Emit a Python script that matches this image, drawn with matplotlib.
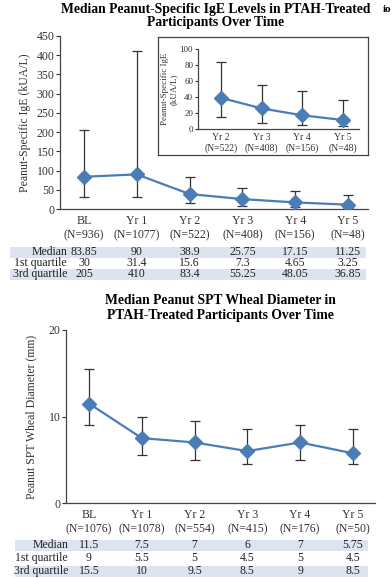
import matplotlib
matplotlib.use("Agg")
import matplotlib.pyplot as plt
from matplotlib.patches import Rectangle
import matplotlib.transforms as mtransforms

plt.rcParams['font.family'] = ['Liberation Serif', 'DejaVu Serif']

# IgE data
ige_labels = ["BL", "Yr 1", "Yr 2", "Yr 3", "Yr 4", "Yr 5"]
ige_n = ["(N=936)", "(N=1077)", "(N=522)", "(N=408)", "(N=156)", "(N=48)"]
ige_median = [83.85, 90, 38.9, 25.75, 17.15, 11.25]
ige_q1 = [30, 31.4, 15.6, 7.3, 4.65, 3.25]
ige_q3 = [205, 410, 83.4, 55.25, 48.05, 36.85]
ige_median_txt = ["83.85", "90", "38.9", "25.75", "17.15", "11.25"]
ige_q1_txt = ["30", "31.4", "15.6", "7.3", "4.65", "3.25"]
ige_q3_txt = ["205", "410", "83.4", "55.25", "48.05", "36.85"]

# SPT data
spt_labels = ["BL", "Yr 1", "Yr 2", "Yr 3", "Yr 4", "Yr 5"]
spt_n = ["(N=1076)", "(N=1078)", "(N=554)", "(N=415)", "(N=176)", "(N=50)"]
spt_median = [11.5, 7.5, 7, 6, 7, 5.75]
spt_q1 = [9, 5.5, 5, 4.5, 5, 4.5]
spt_q3 = [15.5, 10, 9.5, 8.5, 9, 8.5]
spt_median_txt = ["11.5", "7.5", "7", "6", "7", "5.75"]
spt_q1_txt = ["9", "5.5", "5", "4.5", "5", "4.5"]
spt_q3_txt = ["15.5", "10", "9.5", "8.5", "9", "8.5"]

row_names = ["Median", "1st quartile", "3rd quartile"]

W, H = 392, 578
blue = "#4a7db5"
shade = "#dde3ef"
ecol = "#333333"


def fx(px):
    return px / W


def fy(py):
    return 1 - py / H


def style_axes(ax):
    for s in ["top", "right"]:
        ax.spines[s].set_visible(False)
    for s in ["left", "bottom"]:
        ax.spines[s].set_color("#444444")
        ax.spines[s].set_linewidth(0.9)
    ax.tick_params(axis="y", length=3, width=0.8, labelsize=8.5, pad=1, colors="#333333")
    ax.tick_params(axis="x", length=0, labelsize=8.5, pad=4, colors="#333333")


def draw_series(ax, med, q1, q3):
    x = list(range(len(med)))
    lo = [m - a for m, a in zip(med, q1)]
    hi = [b - m for m, b in zip(med, q3)]
    ax.errorbar(x, med, yerr=[lo, hi], fmt="none", ecolor=ecol, elinewidth=0.9,
                capsize=3.5, capthick=0.9, zorder=2)
    ax.plot(x, med, color=blue, lw=1.6, marker="D", ms=7, mfc=blue, mec=blue, zorder=3)


def draw_table(fig, ax, rows, y_rows, shade_x, label_x):
    trans = mtransforms.blended_transform_factory(ax.transData, fig.transFigure)
    for i, (name, vals) in enumerate(zip(row_names, rows)):
        yc = y_rows[i]
        if i != 1:
            fig.patches.append(Rectangle((fx(shade_x[0]), fy(yc + 5.5)),
                                         fx(shade_x[1] - shade_x[0]), 11 / H,
                                         transform=fig.transFigure, facecolor=shade,
                                         edgecolor="none", zorder=-1))
        fig.text(fx(label_x), fy(yc), name, ha="right", va="center", fontsize=8.5,
                 color="#222222")
        for j, v in enumerate(vals):
            ax.text(j, fy(yc), v, transform=trans, ha="center", va="center",
                    fontsize=8.5, color="#222222", clip_on=False)


fig = plt.figure(figsize=(W / 100, H / 100), dpi=100)

# top chart
fig.text(fx(216), fy(9), "Median Peanut-Specific IgE Levels in PTAH-Treated",
         ha="center", va="center", fontsize=9.8, fontweight="bold")
fig.text(fx(216), fy(22.5), "Participants Over Time",
         ha="center", va="center", fontsize=9.8, fontweight="bold")
fig.text(fx(387), fy(9), "io", ha="center", va="center", fontsize=8, fontweight="bold")

ax1 = fig.add_axes([fx(60), fy(209), fx(308), 173 / H])
style_axes(ax1)
draw_series(ax1, ige_median, ige_q1, ige_q3)
ax1.set_ylim(0, 450)
ax1.set_yticks(range(0, 451, 50))
ax1.set_xlim(-0.455, 5.38)
ax1.set_xticks(range(6))
ax1.set_xticklabels([a + "\n" + b for a, b in zip(ige_labels, ige_n)], linespacing=1.3)
ax1.set_ylabel("Peanut-Specific IgE (kUA/L)", fontsize=8.5, color="#333333")
ax1.yaxis.set_label_coords((31 - 60) / 308, 0.5)

draw_table(fig, ax1, [ige_median_txt, ige_q1_txt, ige_q3_txt], [252, 263, 274],
           (10, 366), 67)

# inset
box = fig.add_axes([fx(158), fy(155), fx(210), 118 / H], zorder=5)
box.set_xticks([])
box.set_yticks([])
for s in box.spines.values():
    s.set_color("#444444")
    s.set_linewidth(0.9)

ax_in = fig.add_axes([fx(198), fy(129), fx(161), 80 / H], zorder=6)
ax_in.patch.set_alpha(0)
style_axes(ax_in)
ax_in.tick_params(axis="y", labelsize=6.5, length=2.5)
ax_in.tick_params(axis="x", labelsize=7, pad=3)
draw_series(ax_in, ige_median[2:], ige_q1[2:], ige_q3[2:])
ax_in.set_ylim(0, 100)
ax_in.set_yticks(range(0, 101, 20))
ax_in.set_xlim(-0.567, 3.4)
ax_in.set_xticks(range(4))
ax_in.set_xticklabels([a + "\n" + b for a, b in zip(ige_labels[2:], ige_n[2:])],
                      linespacing=1.2)
ax_in.set_ylabel("Peanut-Specific IgE\n(kUA/L)", fontsize=6.5,
                 color="#333333", linespacing=1.1)
ax_in.yaxis.set_label_coords((178 - 198) / 161, 0.5)

# bottom chart
fig.text(fx(220), fy(300), "Median Peanut SPT Wheal Diameter in",
         ha="center", va="center", fontsize=9.8, fontweight="bold")
fig.text(fx(220), fy(315), "PTAH-Treated Participants Over Time",
         ha="center", va="center", fontsize=9.8, fontweight="bold")

ax2 = fig.add_axes([fx(66), fy(503), fx(309), 173 / H])
style_axes(ax2)
draw_series(ax2, spt_median, spt_q1, spt_q3)
ax2.set_ylim(0, 20)
ax2.set_yticks([0, 10, 20])
ax2.set_xlim(-0.436, 5.42)
ax2.set_xticks(range(6))
ax2.set_xticklabels([a + "\n" + b for a, b in zip(spt_labels, spt_n)], linespacing=1.3)
ax2.set_ylabel("Peanut SPT Wheal Diameter (mm)", fontsize=8.5, color="#333333")
ax2.yaxis.set_label_coords((37 - 66) / 309, 0.5)

draw_table(fig, ax2, [spt_median_txt, spt_q1_txt, spt_q3_txt], [545, 558, 571],
           (15, 368), 68)

fig.savefig("out.png", dpi=100)
